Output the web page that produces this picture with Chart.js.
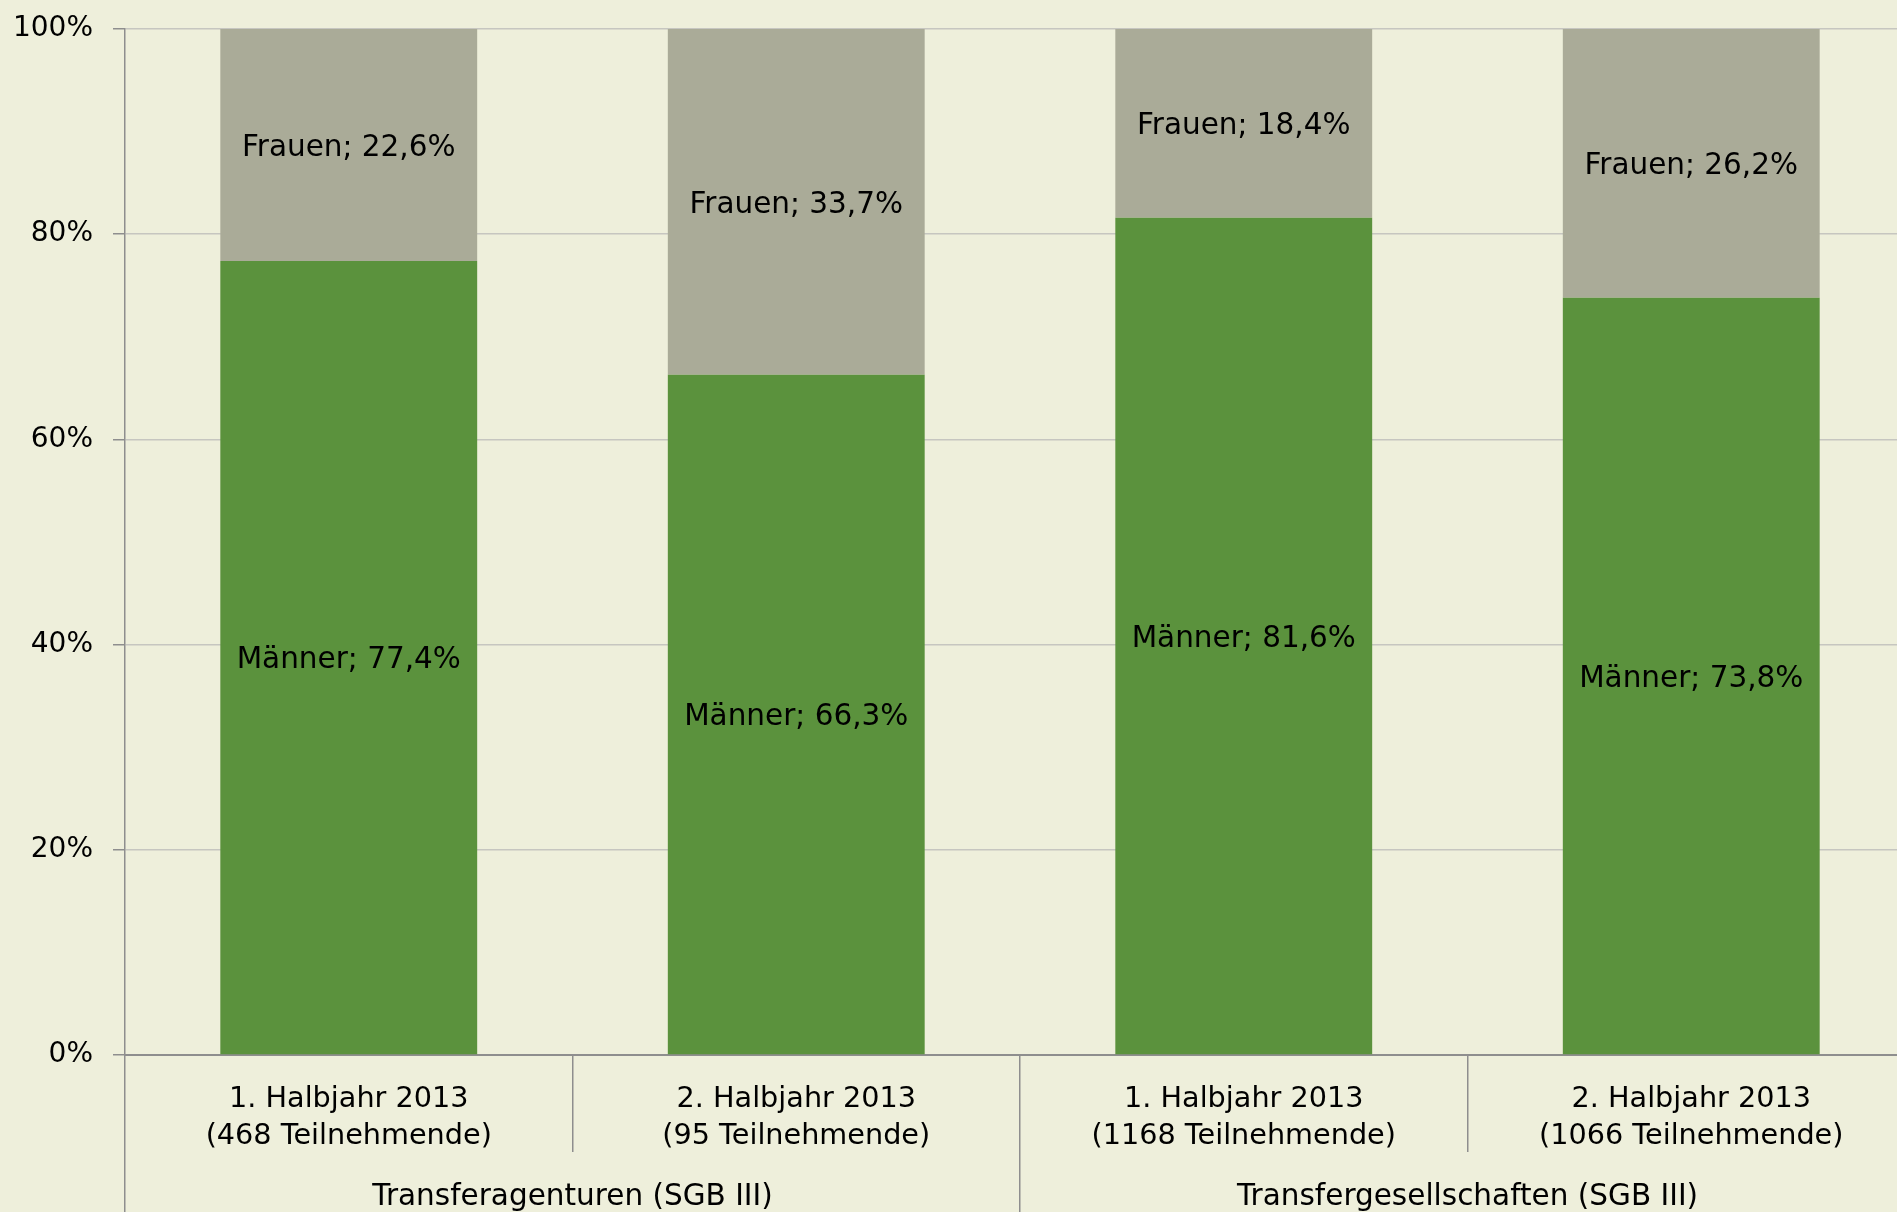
<!DOCTYPE html>
<html>
<head>
<meta charset="utf-8">
<script src="https://cdn.jsdelivr.net/npm/chart.js@4/dist/chart.umd.min.js"></script>
<style>
  html, body { margin: 0; padding: 0; overflow: hidden; background: #EEEFDB; }
  #wrap { width: 1915px; height: 1212px; }
</style>
</head>
<body>
<div id="wrap"><canvas id="c" width="1915" height="1212"></canvas></div>
<script>
const categories = [
  ["1. Halbjahr 2013", "(468 Teilnehmende)"],
  ["2. Halbjahr 2013", "(95 Teilnehmende)"],
  ["1. Halbjahr 2013", "(1168 Teilnehmende)"],
  ["2. Halbjahr 2013", "(1066 Teilnehmende)"]
];
const groups = ["Transferagenturen (SGB III)", "Transfergesellschaften (SGB III)"];
const maenner = [77.4, 66.3, 81.6, 73.8];
const frauen = [22.6, 33.7, 18.4, 26.2];
const seriesNames = ["Männer", "Frauen"];
const yMin = 0, yMax = 100, yStep = 20;

const FONT = "'DejaVu Sans', Verdana, sans-serif";
const TEXT = "#000000";
const AXIS = "#8E8E8E";

const labelPlugin = {
  id: 'segLabels',
  afterDatasetsDraw(chart) {
    const ctx = chart.ctx;
    ctx.save();
    ctx.font = "29.5px " + FONT;
    ctx.fillStyle = TEXT;
    ctx.textAlign = 'center';
    ctx.textBaseline = 'middle';
    chart.data.datasets.forEach((ds, di) => {
      const meta = chart.getDatasetMeta(di);
      meta.data.forEach((el, i) => {
        const p = el.getProps(['x', 'y', 'base'], true);
        const v = ds.data[i].toFixed(1).replace('.', ',');
        ctx.fillText(ds.label + "; " + v + "%", p.x, (p.y + p.base) / 2 + 3);
      });
    });
    ctx.restore();
  }
};

new Chart(document.getElementById('c'), {
  type: 'bar',
  data: {
    labels: categories,
    datasets: [
      { label: seriesNames[0], data: maenner, backgroundColor: '#5B923D', borderWidth: 0,
        barPercentage: 0.574, categoryPercentage: 1.0 },
      { label: seriesNames[1], data: frauen, backgroundColor: '#AAAB98', borderWidth: 0,
        barPercentage: 0.574, categoryPercentage: 1.0 }
    ]
  },
  options: {
    responsive: false,
    animation: false,
    layout: { padding: { top: 29, left: 0, right: 0, bottom: 0 } },
    plugins: { legend: { display: false }, tooltip: { enabled: false } },
    scales: {
      x: {
        stacked: true,
        weight: 0,
        offset: true,
        grid: { offset: true, drawOnChartArea: false, drawTicks: true, tickLength: 97, color: AXIS, lineWidth: 1.5 },
        border: { display: true, color: AXIS, width: 2 },
        ticks: { font: { family: FONT, size: 28.7, lineHeight: 1.3 }, color: TEXT, padding: -71, autoSkip: false, maxRotation: 0, minRotation: 0 },
        afterFit(s) { s.height = 97; s.paddingTop = 0; s.paddingBottom = 0; }
      },
      x2: {
        type: 'category',
        labels: groups,
        position: 'bottom',
        weight: 1,
        offset: true,
        grid: { offset: true, drawOnChartArea: false, drawTicks: true, tickLength: 60, color: AXIS, lineWidth: 1.5 },
        border: { display: false },
        ticks: { font: { family: FONT, size: 29.5, lineHeight: 1.3 }, color: TEXT, padding: -34, autoSkip: false, maxRotation: 0, minRotation: 0 },
        afterFit(s) { s.height = 60; s.paddingTop = 0; s.paddingBottom = 0; }
      },
      y: {
        stacked: true,
        min: yMin, max: yMax,
        grid: { color: '#C6C6C0', lineWidth: 1.5, tickLength: 12, tickColor: AXIS, drawTicks: true },
        border: { display: true, color: AXIS, width: 1.5 },
        ticks: { stepSize: yStep, font: { family: FONT, size: 28 }, color: TEXT, padding: 20,
          callback: v => v + '%' },
        afterFit(s) { s.width = 125; s.paddingTop = 0; s.paddingBottom = 0; }
      }
    }
  },
  plugins: [labelPlugin]
});
</script>
</body>
</html>
